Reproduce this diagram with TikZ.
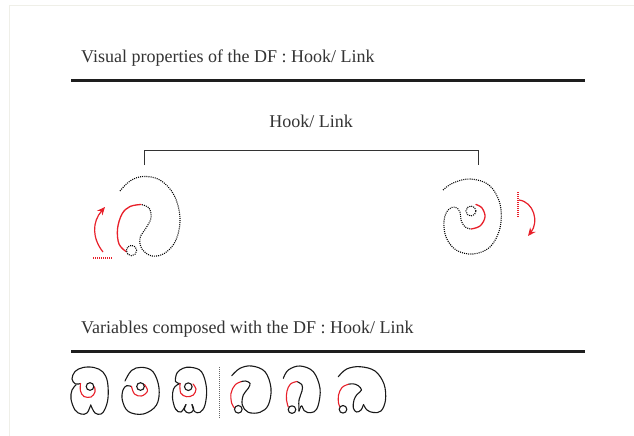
\documentclass[tikz,border=0pt]{standalone}
\usepackage{fontspec}
\setmainfont{Liberation Serif}
\usetikzlibrary{arrows.meta}
\definecolor{ink}{HTML}{333333}
\definecolor{rulecol}{HTML}{1E1E1E}
\definecolor{hookred}{HTML}{E8202A}
\definecolor{edgecol}{HTML}{EFEFE8}
\begin{document}
\begin{tikzpicture}[x=1pt,y=-1pt,
  heading/.style={font=\fontsize{18}{20}\selectfont, text=ink, inner sep=0pt},
  bigrule/.style={draw=rulecol, line width=3pt},
  bracketline/.style={draw=ink, line width=1pt},
  dotstroke/.style={draw=black, line width=1.1pt, dash pattern=on 1pt off 1.1pt},
  redstroke/.style={draw=hookred, line width=1.3pt, line cap=round},
  glyph/.style={draw=black!90, line width=1.1pt, line join=round, line cap=round},
  redglyph/.style={draw=hookred, line width=1.1pt, line cap=round},
  motion/.style={draw=hookred, line width=1.2pt, -{Stealth[length=8pt,width=7pt]}},
  reddots/.style={draw=hookred, line width=1.2pt, dash pattern=on 1pt off 1pt},
  sepdots/.style={draw=black!60, line width=1pt, dash pattern=on 1pt off 1pt},
]
\useasboundingbox (0,0) rectangle (634,436);
\fill[white] (0,0) rectangle (634,436);
\draw[edgecol] (9,436) -- (9,5.5) -- (634,5.5);

% headings and rules
\node[heading, anchor=base west] (title) at (81,63) {Visual properties of the DF : Hook/ Link};
\coordinate (r1a) at (71,80); \coordinate (r1b) at (585,80);
\draw[bigrule] (r1a) -- (r1b);

\node[heading, anchor=base] (hooklink) at (311,127) {Hook/ Link};
\coordinate (bl) at (144,165); \coordinate (br) at (478,165);
\draw[bracketline] (bl) -- ++(0,-15) -| (br);

\node[heading, anchor=base west] (vars) at (81,333) {Variables composed with the DF : Hook/ Link};
\coordinate (r2a) at (71,351); \coordinate (r2b) at (585,351);
\draw[bigrule] (r2a) -- (r2b);

% large glyph, hook opening on the left
\draw[dotstroke] plot[smooth, tension=0.6] coordinates {(120,191) (130,181) (143,176.5) (160,180) (174,195) (180,218) (176,240) (165,253) (152,256) (142,249) (140,238) (146,228) (151,218) (149,208) (141,204.5)};
\draw[redstroke] plot[smooth, tension=0.6] coordinates {(141,204.5) (130,206.5) (122,214) (117.5,229) (119,244) (126,251.5)};
\draw[dotstroke] (131.5,250.5) circle[radius=5.2pt];
\coordinate (la0) at (103,252); \coordinate (la1) at (105,207);
\draw[motion] (la0) .. controls (92,238) and (92,222) .. (la1);
\coordinate (ld0) at (93,258); \coordinate (ld1) at (112,258);
\draw[reddots] (ld0) -- (ld1);

% large glyph, curl turning inwards
\draw[dotstroke] plot[smooth, tension=0.6] coordinates {(443,190) (453,183) (470,179) (489,185) (500,204) (500,228) (490,247) (473,254) (456,250) (446,237) (444,221) (448,210) (455,207) (460,212) (461,220) (465,227) (471,229)};
\draw[redstroke] plot[smooth, tension=0.6] coordinates {(471,229) (480,226) (485,217) (482,208) (476,204.5)};
\draw[dotstroke] (471,211) circle[radius=5pt];
\coordinate (ra0) at (519,200); \coordinate (ra1) at (528,236);
\draw[motion] (ra0) .. controls (534,202) and (539,222) .. (ra1);
\coordinate (rd0) at (518,192); \coordinate (rd1) at (518,218);
\draw[reddots] (rd0) -- (rd1);

% variant 1
\draw[glyph] plot[smooth, tension=0.6] coordinates {(80.5,383.5) (75.5,384) (72,379) (75,371.5) (83,367.5) (94,367.5) (103,372) (107.5,382) (108,398) (105,409) (101,414) (95,413) (90.7,405)};
\draw[glyph] plot[smooth, tension=0.6] coordinates {(90.7,405) (87,413) (81,414) (75,410) (71,399) (72,390) (76,385)};
\draw[redglyph] plot[smooth, tension=0.6] coordinates {(80.5,383.5) (80.5,391) (84,396.5) (91,397) (95,392) (94.5,387)};
\draw[glyph] (90,386.5) circle[radius=3.8pt];

% variant 2
\draw[glyph] plot[smooth, tension=0.6] coordinates {(125,381) (131.5,370.5) (141.5,367.3) (153,371.7) (159,388) (156.5,405) (143.3,414) (128.3,411.5) (122.3,400) (123,390) (126.7,385.7) (131.5,386.5)};
\draw[redglyph] plot[smooth, tension=0.6] coordinates {(131.5,386.5) (134.5,394) (141.5,396) (147.5,391) (144.5,384.5)};
\draw[glyph] (140.5,386.5) circle[radius=3.8pt];

% variant 3
\draw[glyph] plot[smooth, tension=0.6] coordinates {(180,383.5) (175.5,381.5) (177,373) (183,368.3) (191,367.3) (201.5,371.7) (206.5,388) (205,405) (200,412.3) (194.5,411.5) (192,404.5)};
\draw[glyph] plot[smooth, tension=0.7] coordinates {(192,404.5) (193.5,410) (189,413) (184.5,410) (186,404.5)};
\draw[glyph] plot[smooth, tension=0.6] coordinates {(186,404.5) (181,412) (175.5,409) (172.5,398) (173.5,389) (177,385) (180,383.5)};
\draw[redglyph] plot[smooth, tension=0.6] coordinates {(180,383.5) (180.7,393) (186.7,396.7) (193.3,395) (196,389) (193,384)};
\draw[glyph] (188.3,386.7) circle[radius=3.8pt];

% separator
\coordinate (s0) at (219,367); \coordinate (s1) at (219,418);
\draw[sepdots] (s0) -- (s1);

% variant 4
\draw[glyph] plot[smooth, tension=0.6] coordinates {(231.7,375.7) (240,368.3) (251.7,366) (265,371.7) (271,388.3) (268.3,405) (260,412.3) (248.3,412.3) (242.3,405) (243.3,395) (248.3,388.3) (250,383.3) (245.5,381) (241,381.7)};
\draw[redglyph] plot[smooth, tension=0.6] coordinates {(241,381.7) (235,385) (231,393.3) (231.7,403.3) (234.5,408)};
\draw[glyph] (238.3,409.3) circle[radius=3.8pt];

% variant 5
\draw[glyph] plot[smooth, tension=0.6] coordinates {(283.3,378.3) (288.3,370) (300,366) (313.3,371.7) (320,388.3) (318.3,405) (314,411.8) (307.5,412.5) (304,410.5) (301.5,405.8) (299,411)};
\draw[glyph] plot[smooth, tension=0.6] coordinates {(299,411) (299,400) (302,391) (302,385) (297,381.5)};
\draw[redglyph] plot[smooth, tension=0.6] coordinates {(297,381.5) (290.5,384) (287,391) (286.5,400) (288.3,407)};
\draw[glyph] (292,409.6) circle[radius=3.8pt];

% variant 6
\draw[glyph] plot[smooth, tension=0.6] coordinates {(338.3,376.7) (346.7,369) (360,366.7) (375,371) (384,384) (385.5,400) (381,411) (373.3,412.5) (367,410) (363.5,404.5)};
\draw[glyph] plot[smooth, tension=0.6] coordinates {(363.5,404.5) (361,410) (356.5,412) (353.3,408) (354,400) (357,394.5) (361.5,390) (358,385.5) (353,383.8) (348.3,384.3)};
\draw[redglyph] plot[smooth, tension=0.6] coordinates {(348.3,384.3) (342,387.5) (338.5,395) (338.5,403) (340,407)};
\draw[glyph] (343,409.3) circle[radius=3.8pt];
\end{tikzpicture}
\end{document}
